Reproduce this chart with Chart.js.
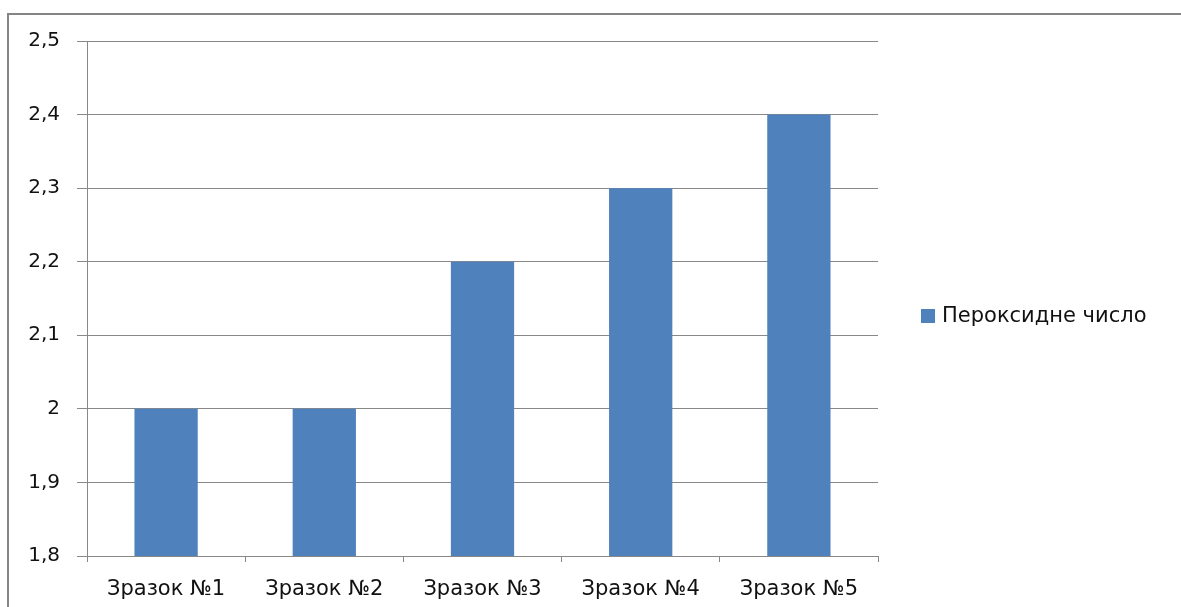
<!DOCTYPE html>
<html>
<head>
<meta charset="utf-8">
<script src="https://cdn.jsdelivr.net/npm/chart.js@4"></script>
<style>
    html, body { margin: 0; padding: 0; background: #fff; overflow: hidden; }
    .frame {
        position: absolute; left: 7px; top: 13px;
        width: 1300px; height: 700px;
        border-top: 2px solid #858585; border-left: 2px solid #858585;
    }
    .box { position: absolute; left: 0; top: 0; width: 1181px; height: 607px; }
</style>
</head>
<body>
<div class="frame"></div>
<div class="box"><canvas id="peroxideChart"></canvas></div>
<script>
    const samples = ['Зразок №1', 'Зразок №2', 'Зразок №3', 'Зразок №4', 'Зразок №5'];
    const peroxideValues = [2.0, 2.0, 2.2, 2.3, 2.4];
    const yTicks = [1.8, 1.9, 2.0, 2.1, 2.2, 2.3, 2.4, 2.5];
    const seriesName = 'Пероксидне число';

    const barColor = '#4f81bd';
    const gridColor = '#888888';
    const textColor = '#111111';
    const fontFamily = '"DejaVu Sans", Verdana, sans-serif';

    // legend on the right, drawn next to the plot
    const sideLegend = {
        id: 'sideLegend',
        afterDraw(chart) {
            const ctx = chart.ctx;
            const ds = chart.data.datasets[0];
            ctx.save();
            ctx.fillStyle = ds.backgroundColor;
            ctx.fillRect(921, 309, 14, 14);
            ctx.fillStyle = textColor;
            ctx.font = '21px ' + fontFamily;
            ctx.textBaseline = 'middle';
            ctx.textAlign = 'left';
            ctx.fillText(ds.label, 942, 317);
            ctx.restore();
        }
    };

    function commaNumber(v) {
        return String(+Number(v).toFixed(1)).replace('.', ',');
    }

    const ctx = document.getElementById('peroxideChart').getContext('2d');
    new Chart(ctx, {
        type: 'bar',
        data: {
            labels: samples,
            datasets: [{
                label: seriesName,
                data: peroxideValues,
                backgroundColor: barColor,
                categoryPercentage: 1,
                barPercentage: 0.4
            }]
        },
        options: {
            responsive: true,
            maintainAspectRatio: false,
            animation: false,
            layout: {
                padding: { left: 0, top: 41, right: 303, bottom: 0 }
            },
            plugins: {
                legend: { display: false },
                tooltip: { enabled: false }
            },
            scales: {
                x: {
                    afterFit(scale) { scale.height = 51; },
                    grid: {
                        offset: true,
                        drawOnChartArea: false,
                        drawTicks: true,
                        tickLength: 6,
                        color: gridColor
                    },
                    border: { color: gridColor, width: 1 },
                    ticks: {
                        color: textColor,
                        padding: 15,
                        maxRotation: 0,
                        font: { family: fontFamily, size: 21 }
                    }
                },
                y: {
                    min: 1.8,
                    max: 2.5,
                    afterFit(scale) { scale.width = 87; },
                    afterBuildTicks(scale) {
                        scale.ticks = yTicks.map(v => ({ value: v }));
                    },
                    grid: {
                        color: gridColor,
                        tickLength: 10,
                        drawTicks: true
                    },
                    border: { color: gridColor, width: 1 },
                    ticks: {
                        color: textColor,
                        padding: 17,
                        font: { family: fontFamily, size: 20 },
                        callback: v => commaNumber(v)
                    }
                }
            }
        },
        plugins: [sideLegend]
    });
</script>
</body>
</html>
